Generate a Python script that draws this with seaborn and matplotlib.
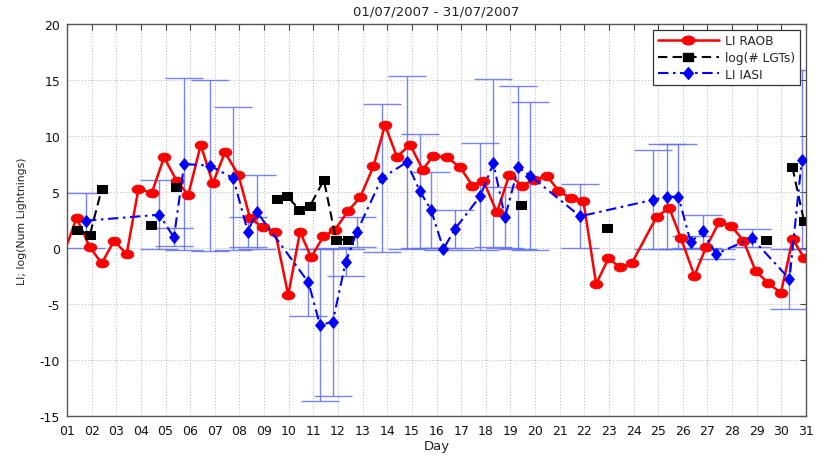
import numpy as np
import pandas as pd
import matplotlib
matplotlib.use("Agg")
import matplotlib.pyplot as plt
from matplotlib.path import Path
from matplotlib.lines import Line2D
import seaborn as sns

# ---------------- data ----------------
raob_day = [0.75, 1.39, 1.93, 2.41, 2.91, 3.42, 3.90, 4.44, 4.94, 5.45, 5.92, 6.43, 6.92, 7.41,
            7.96, 8.43, 8.95, 9.45, 9.98, 10.46, 10.91, 11.41, 11.88, 12.42, 12.90, 13.44, 13.91,
            14.39, 14.93, 15.44, 15.87, 16.42, 16.96, 17.46, 17.90, 18.45, 18.96, 19.46, 19.97,
            20.48, 20.95, 21.46, 21.96, 22.48, 22.98, 23.45, 23.93, 24.94, 25.45, 25.92, 26.47,
            26.94, 27.47, 27.96, 28.46, 28.96, 29.47, 29.98, 30.46, 30.92]
raob_li = [-1.2, 2.68, 0.06, -1.37, 0.65, -0.54, 5.27, 4.91, 8.10, 6.01, 4.73, 9.20, 5.77, 8.54,
           6.52, 2.65, 1.85, 1.46, -4.20, 1.46, -0.83, 1.04, 1.64, 3.33, 4.52, 7.29, 10.98,
           8.15, 9.22, 6.99, 8.24, 8.10, 7.20, 5.56, 6.01, 3.19, 6.55, 5.56, 6.10,
           6.46, 5.12, 4.43, 4.23, -3.21, -0.92, -1.73, -1.34, 2.80, 3.57, 0.89, -2.47,
           0.06, 2.29, 1.99, 0.65, -2.08, -3.13, -4.02, 0.80, -0.89]

lgt_day = [1.42, 1.93, 2.41, 4.40, 5.43, 9.51, 9.92, 10.43, 10.87, 11.43, 11.92, 12.42,
           19.43, 22.94, 29.38, 30.45, 30.92]
lgt_log = [1.61, 1.19, 5.27, 2.08, 5.42, 4.38, 4.67, 3.42, 3.78, 6.07, 0.74, 0.74,
           3.84, 1.79, 0.74, 7.20, 2.38]
lgt_segment = [0, 0, 0, 1, 2, 3, 3, 3, 3, 3, 3, 3, 4, 5, 6, 7, 7]

iasi_day = [1.77, 4.75, 5.34, 5.76, 6.81, 7.75, 8.34, 8.70, 10.80, 11.27, 11.79, 12.31, 12.76,
            13.78, 14.79, 15.33, 15.78, 16.28, 16.75, 17.77, 18.31, 18.78, 19.32, 19.80, 21.83,
            24.80, 25.35, 25.82, 26.32, 26.81, 27.35, 28.80, 30.33, 30.83]
iasi_li = [2.44, 2.97, 0.95, 7.50, 7.35, 6.22, 1.46, 3.24, -3.06, -6.88, -6.58, -1.28, 1.40,
           6.25, 7.65, 5.06, 3.39, -0.09, 1.70, 4.61, 7.56, 2.74, 7.20, 6.46, 2.83,
           4.31, 4.58, 4.58, 0.51, 1.49, -0.54, 0.89, -2.77, 7.88]
iasi_err = [2.44, 3.1, 0.8, 7.7, 7.65, 6.4, 1.35, 3.3, 3.0, 6.8, 6.6, 1.2, 1.35,
            6.6, 7.7, 5.1, 3.4, 0.1, 1.7, 4.75, 7.5, 2.7, 7.3, 6.6, 2.85,
            4.4, 4.7, 4.7, 0.55, 1.45, 0.45, 0.8, 2.7, 8.0]

day_ticks = list(range(1, 32))
day_labels = ["%02d" % d for d in day_ticks]
li_ticks = [-15, -10, -5, 0, 5, 10, 15, 20]

series_labels = ["LI RAOB", "log(# LGTs)", "LI IASI"]

# ---------------- styling ----------------
sns.set_theme(style="white")
plt.rcParams["font.family"] = ["DejaVu Sans"]

RED = "#ff0000"
BLUE = "#0000ff"
EBLUE = "#5f6ff2"

# custom (slightly stretched) markers like the reference
circ = Path.unit_circle()
ellipse = Path(circ.vertices * np.array([1.45, 1.0]), circ.codes)
diamond = Path([(0, 1), (0.83, 0), (0, -1), (-0.83, 0), (0, 1)],
               [Path.MOVETO, Path.LINETO, Path.LINETO, Path.LINETO, Path.CLOSEPOLY])
square = Path([(-1.25, -1), (1.25, -1), (1.25, 1), (-1.25, 1), (-1.25, -1)],
              [Path.MOVETO, Path.LINETO, Path.LINETO, Path.LINETO, Path.CLOSEPOLY])

dash_ls = (0, (4.5, 2.5))
dashdot_ls = (0, (5, 2.2, 1.2, 2.2))

fig = plt.figure(figsize=(8.17, 4.56), dpi=100)
ax = fig.add_axes([67 / 817, 1 - 417 / 456, (806 - 67) / 817, (417 - 25) / 456])

# error bars for IASI
ax.errorbar(iasi_day, iasi_li, yerr=iasi_err, fmt="none", ecolor=EBLUE,
            elinewidth=1.0, capsize=14, capthick=1.0, alpha=0.85, zorder=1.5)

raob_df = pd.DataFrame({"day": raob_day, "val": raob_li})
sns.lineplot(data=raob_df, x="day", y="val", ax=ax, color=RED, linewidth=1.8,
             marker=ellipse, markersize=9.0, markeredgecolor=RED, markerfacecolor=RED,
             estimator=None, sort=True, zorder=2)

lgt_df = pd.DataFrame({"day": lgt_day, "val": lgt_log, "seg": lgt_segment})
sns.lineplot(data=lgt_df, x="day", y="val", units="seg", estimator=None, ax=ax,
             color="black", linewidth=1.5, linestyle=dash_ls,
             marker=square, markersize=7.2, markeredgecolor="black", markerfacecolor="black",
             zorder=2.5)

iasi_df = pd.DataFrame({"day": iasi_day, "val": iasi_li})
sns.lineplot(data=iasi_df, x="day", y="val", ax=ax, color=BLUE, linewidth=1.5,
             linestyle=dashdot_ls, marker=diamond, markersize=8.4,
             markeredgecolor=BLUE, markerfacecolor=BLUE, estimator=None, zorder=3)

ax.set_xlim(1, 31)
ax.set_ylim(-15, 20)
ax.set_xticks(day_ticks)
ax.set_xticklabels(day_labels)
ax.set_yticks(li_ticks)
ax.set_yticklabels([str(v) for v in li_ticks])
ax.tick_params(direction="in", top=True, right=True, length=4, width=0.8,
               color="#444444", labelsize=9, labelcolor="#111111")
ax.tick_params(axis="x", pad=6)
ax.tick_params(axis="y", pad=5)
ax.grid(True, linestyle=(0, (1, 2)), color="#b5b5b5", linewidth=0.7)
for s in ax.spines.values():
    s.set_color("#555555")
    s.set_linewidth(1.0)
    s.set_visible(True)

ax.set_title("01/07/2007 - 31/07/2007", fontsize=9.5, color="#222222", pad=7)
ax.set_xlabel("Day", fontsize=9.5, color="#222222", labelpad=1)
ax.set_ylabel("LI; log(Num Lightnings)", fontsize=7.8, color="#222222", labelpad=9)

handles = [
    Line2D([], [], color=RED, linewidth=1.8, marker=ellipse, markersize=9.0,
           markeredgecolor=RED, markerfacecolor=RED),
    Line2D([], [], color="black", linewidth=1.5, linestyle=dash_ls, marker=square,
           markersize=7.2, markeredgecolor="black", markerfacecolor="black"),
    Line2D([], [], color=BLUE, linewidth=1.5, linestyle=dashdot_ls, marker=diamond,
           markersize=8.4, markeredgecolor=BLUE, markerfacecolor=BLUE),
]
leg = ax.legend(handles, series_labels, loc="upper right", fontsize=8.8, frameon=True,
                fancybox=False, framealpha=1, edgecolor="#333333", handlelength=5.0,
                handletextpad=0.55, borderpad=0.35, labelspacing=0.3,
                borderaxespad=0.5, numpoints=1)
leg.get_frame().set_linewidth(0.9)

fig.savefig("out.png", dpi=100)
